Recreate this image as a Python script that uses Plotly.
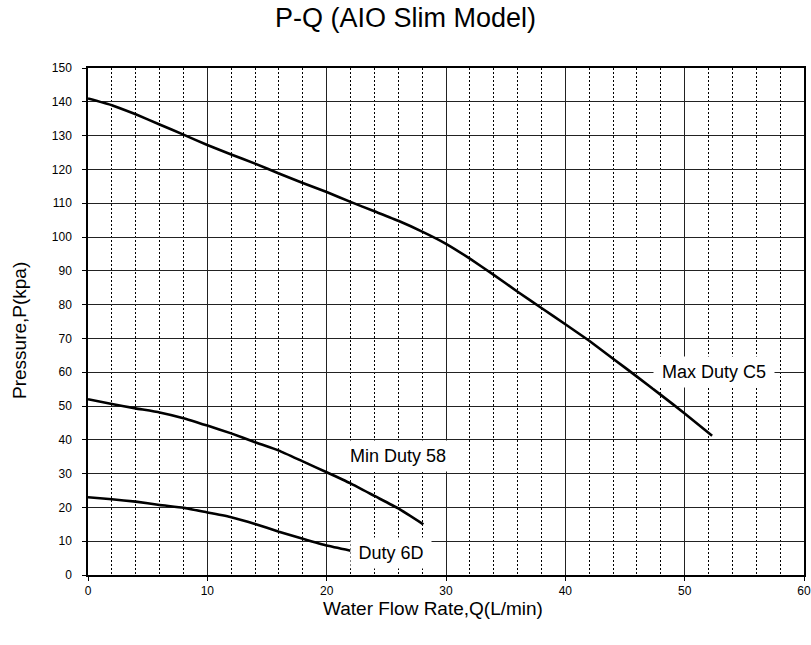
import plotly.graph_objects as go

# Data
max_q = [0, 2, 4, 6, 8, 10, 12, 14, 16, 18, 20, 22, 24, 26, 28, 30, 32, 34, 36, 38, 40, 42, 44, 46, 48, 50, 52.3]
max_p = [141, 139, 136.3, 133.3, 130.3, 127.2, 124.4, 121.7, 118.8, 116.0, 113.3, 110.4, 107.6, 104.8,
         101.6, 98.0, 93.6, 88.8, 83.8, 79.0, 74.2, 69.3, 64.0, 58.7, 53.3, 47.8, 41.2]

min_q = [0, 2, 4, 6, 8, 10, 12, 14, 16, 18, 20, 22, 24, 26, 28.1]
min_p = [52, 50.6, 49.3, 48.1, 46.4, 44.2, 41.9, 39.3, 36.8, 33.6, 30.4, 27.1, 23.4, 19.7, 15.0]

d6_q = [0, 2, 4, 6, 8, 10, 12, 14, 16, 18, 20, 22]
d6_p = [23, 22.4, 21.7, 20.7, 19.9, 18.5, 17.1, 15.1, 12.8, 10.7, 8.7, 7.2]

series_names = ["Max Duty C5", "Min Duty 58", "Duty 6D"]

x_ticks = [0, 10, 20, 30, 40, 50, 60]
y_ticks = list(range(0, 151, 10))

FONT = "Liberation Sans, Arial, sans-serif"
W, H = 811, 645
L, R, T, B = 88, 7, 68, 70

fig = go.Figure()
for name, q, p in zip(series_names, [max_q, min_q, d6_q], [max_p, min_p, d6_p]):
    fig.add_trace(go.Scatter(x=q, y=p, mode="lines", name=name,
                             line=dict(color="black", width=2.6, shape="spline", smoothing=0.4)))

label_pos = {"Max Duty C5": (52.45, 60), "Min Duty 58": (25.95, 35.3), "Duty 6D": (25.4, 6.4)}
label_w = {"Max Duty C5": 114, "Min Duty 58": 106, "Duty 6D": 74}
for name in series_names:
    x, y = label_pos[name]
    fig.add_annotation(x=x, y=y, xref="x", yref="y", text=name, showarrow=False,
                       font=dict(size=18, color="black", family=FONT),
                       width=label_w[name], height=24, align="center",
                       bgcolor="white", borderpad=3)

# axis titles placed as paper annotations (pixel positions converted to paper coords)
pw, ph = W - L - R, H - T - B
def px_to_paper(px, py):
    return (px - L) / pw, (H - B - py) / ph

xt = px_to_paper(433, 608)
fig.add_annotation(x=xt[0], y=xt[1], xref="paper", yref="paper", text="Water Flow Rate,Q(L/min)",
                   showarrow=False, font=dict(size=19, color="black", family=FONT),
                   xanchor="center", yanchor="middle")
yt = px_to_paper(19, 331)
fig.add_annotation(x=yt[0], y=yt[1], xref="paper", yref="paper", text="Pressure,P(kpa)",
                   showarrow=False, textangle=-90, font=dict(size=19, color="black", family=FONT),
                   xanchor="center", yanchor="middle")

fig.update_layout(
    width=W, height=H,
    margin=dict(l=L, r=R, t=T, b=B),
    paper_bgcolor="white", plot_bgcolor="white",
    showlegend=False,
    font=dict(family=FONT, color="black"),
    title=dict(text="P-Q (AIO Slim Model)", x=0.5, xanchor="center", y=1 - 18 / H, yanchor="middle",
               font=dict(size=27, color="black", family=FONT)),
)

fig.update_xaxes(
    range=[0, 60], tickvals=x_ticks, ticktext=[str(v) for v in x_ticks],
    automargin=False,
    showline=True, linecolor="black", linewidth=1.5, mirror=True,
    showgrid=True, gridcolor="#222", gridwidth=1.3,
    ticks="outside", ticklen=4, tickcolor="black",
    tickfont=dict(size=12, color="black"),
    minor=dict(dtick=2, showgrid=True, gridcolor="black", gridwidth=1, griddash="2px,2px"),
    zeroline=False,
)
fig.update_yaxes(
    range=[0, 150], tickvals=y_ticks, ticktext=[str(v) for v in y_ticks],
    automargin=False,
    showline=True, linecolor="black", linewidth=1.5, mirror=True,
    showgrid=True, gridcolor="#222", gridwidth=1.3,
    ticks="outside", ticklen=4, tickcolor="black", ticklabelstandoff=8,
    tickfont=dict(size=12, color="black"),
    zeroline=False,
)

fig.write_html("out.html", config={"displayModeBar": False},
               post_script="document.body.style.margin='0';document.body.style.overflow='hidden';")
